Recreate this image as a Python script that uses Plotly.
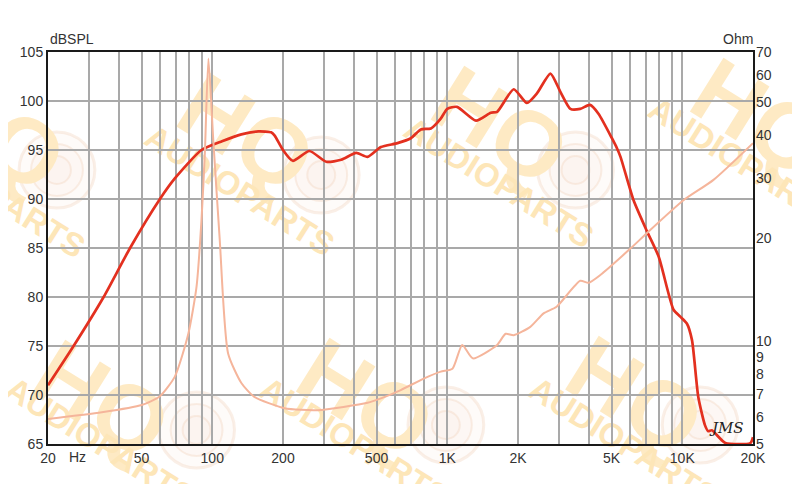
import plotly.graph_objects as go

# ---------------- data ----------------
spl_freq = [20, 25.7, 34.5, 44.7, 59.9, 69.3, 90, 110, 133, 157, 178, 184, 200, 220, 259, 306, 354,
            410, 458, 522, 614, 700, 772, 852, 938, 1000, 1100, 1326, 1532, 1630, 1918, 2182, 2412,
            2748, 3034, 3340, 3680, 4052, 4400, 5020, 5268, 5460, 6200, 7080, 7940, 9180, 9800,
            10460, 11000, 11700, 12500, 12900, 13360, 15260, 19500, 20000]
spl_db = [71.0, 75.0, 80.0, 85.0, 90.0, 92.1, 95.0, 95.9, 96.6, 96.9, 96.8, 96.5, 95.0, 93.9, 94.9,
          93.8, 94.0, 94.7, 94.3, 95.3, 95.7, 96.2, 97.1, 97.2, 98.2, 99.2, 99.4, 98.0, 98.8, 98.9,
          101.2, 99.8, 100.8, 102.8, 100.9, 99.2, 99.2, 99.6, 98.7, 96.2, 95.2, 94.3, 89.9, 86.7,
          84.1, 78.7, 78.0, 77.3, 75.6, 69.8, 66.9, 66.3, 66.4, 65.1, 65.1, 65.7]

imp_freq = [20, 33.9, 50.1, 59.9, 69.3, 79.1, 85.7, 90, 93, 96.3, 101, 107.6, 116.8, 133, 151, 203,
            281, 458, 522, 634, 798, 938, 1052, 1158, 1284, 1630, 1772, 1918, 2256, 2570, 2920,
            3680, 3992, 4480, 6000, 7080, 10120, 13580, 20000]
imp_ohm = [5.92, 6.19, 6.5, 6.9, 7.87, 10.5, 14.4, 22.6, 35.4, 67.0, 38.7, 19.8, 9.2, 7.54, 6.87,
           6.36, 6.28, 6.6, 6.8, 7.19, 7.78, 8.14, 8.3, 9.74, 8.9, 9.74, 10.5, 10.4, 11.0, 12.05,
           12.6, 15.0, 14.8, 15.6, 18.6, 20.7, 25.8, 29.6, 37.9]

x_grid = [20, 30, 40, 50, 60, 70, 80, 90, 100, 200, 300, 400, 500, 600, 700, 800, 900,
          1000, 2000, 3000, 4000, 5000, 6000, 7000, 8000, 9000, 10000, 20000]
x_labels = {20: "20", 50: "50", 100: "100", 200: "200", 500: "500", 1000: "1K",
            2000: "2K", 5000: "5K", 10000: "10K", 20000: "20K"}
y_ticks = [65, 70, 75, 80, 85, 90, 95, 100, 105]
ohm_ticks = [5, 6, 7, 8, 9, 10, 20, 30, 40, 50, 60, 70]

# ---------------- figure ----------------
# the page body adds an 8px offset, so the figure is laid out in screen pixels minus 8
OFF = 8
W, H = 800, 484
SL, SR, ST, SB = 46, 753, 52, 444          # plot box in screen pixels
L, T = SL - OFF, ST - OFF
PW, PH = SR - SL, SB - ST
R, B = W - L - PW, H - T - PH


def px(xs):
    return (xs - SL) / PW


def py(ys):
    return (SB - ys) / PH


fig = go.Figure()
fig.add_trace(go.Scatter(x=imp_freq, y=imp_ohm, yaxis="y2", mode="lines",
                         line=dict(color="#f5b59b", width=2, shape="spline", smoothing=0.6),
                         hoverinfo="skip", showlegend=False))
fig.add_trace(go.Scatter(x=spl_freq, y=spl_db, mode="lines",
                         line=dict(color="#e3301f", width=2.7, shape="spline", smoothing=0.6),
                         hoverinfo="skip", showlegend=False))

font = dict(family="Liberation Sans, Arial, sans-serif", size=14, color="#333333")

fig.update_layout(
    width=W, height=H,
    margin=dict(l=L, r=R, t=T, b=B),
    paper_bgcolor="white", plot_bgcolor="white",
    font=font,
    xaxis=dict(type="log", range=[1.30103, 4.30103],
               tickvals=x_grid, ticktext=[x_labels.get(v, "") for v in x_grid],
               showgrid=True, gridcolor="#a9a9a9", gridwidth=1.5,
               showline=True, linecolor="#1a1a1a", linewidth=2, mirror=True,
               ticks="", zeroline=False, tickfont=font, ticklabelstandoff=0),
    yaxis=dict(range=[65, 105], tickvals=y_ticks,
               showgrid=True, gridcolor="#a9a9a9", gridwidth=1.5,
               showline=True, linecolor="#1a1a1a", linewidth=2, mirror=True,
               ticks="", zeroline=False, tickfont=font, ticklabelstandoff=0),
    yaxis2=dict(type="log", range=[0.69897, 1.845098], overlaying="y", side="right",
                tickvals=ohm_ticks, ticktext=[str(v) for v in ohm_ticks],
                showgrid=False, ticks="", zeroline=False, showline=False,
                tickfont=font, ticklabelstandoff=2),
)

# axis titles
fig.add_annotation(text="dBSPL", xref="paper", yref="paper", x=px(46), y=py(39),
                   xanchor="left", yanchor="middle", showarrow=False, font=font)
fig.add_annotation(text="Ohm", xref="paper", yref="paper", x=px(755), y=py(39),
                   xanchor="right", yanchor="middle", showarrow=False, font=font)
fig.add_annotation(text="Hz", xref="paper", yref="paper", x=px(76), y=py(457),
                   xanchor="center", yanchor="middle", showarrow=False, font=font)
fig.add_annotation(text="JMS", xref="paper", yref="paper", x=px(726), y=py(428),
                   xanchor="center", yanchor="middle", showarrow=False,
                   font=dict(family="DejaVu Serif", size=15, color="#222222", style="italic"))

# ---------------- watermark (behind everything) ----------------
wm_hq = [(0, 125), (250, 125), (505, 118), (765, 110), (105, 392), (370, 390), (640, 388)]
wm_text = [(-10, 190), (240, 188), (500, 180), (745, 160), (100, 440), (355, 440), (625, 440)]
wm_circ = [(55, 170), (320, 175), (575, 170), (195, 430), (445, 425), (700, 425)]

for cx, cy in wm_circ:
    for r, lw in [(38, 3), (26, 2), (14, 2)]:
        fig.add_shape(type="circle", xref="paper", yref="paper", layer="below",
                      x0=px(cx - r), x1=px(cx + r), y0=py(cy + r), y1=py(cy - r),
                      line=dict(color="rgba(240,210,185,0.35)", width=lw),
                      fillcolor="rgba(250,235,222,0.18)")

for cx, cy in wm_hq:
    fig.add_shape(type="rect", xref="paper", yref="paper", layer="below",
                  x0=px(cx - 5), x1=px(cx + 5), y0=py(cy + 5), y1=py(cy - 5),
                  line=dict(width=0), fillcolor="rgba(0,0,0,0)",
                  label=dict(text="<b>HQ</b>", textangle=32,
                             font=dict(family="Liberation Sans", size=92, color="#feeac4")))
for cx, cy in wm_text:
    fig.add_shape(type="rect", xref="paper", yref="paper", layer="below",
                  x0=px(cx - 5), x1=px(cx + 5), y0=py(cy + 5), y1=py(cy - 5),
                  line=dict(width=0), fillcolor="rgba(0,0,0,0)",
                  label=dict(text="<b>AUDIOPARTS</b>", textangle=32,
                             font=dict(family="Liberation Sans", size=33, color="#fde6b8")))

fig.write_html("out.html")
